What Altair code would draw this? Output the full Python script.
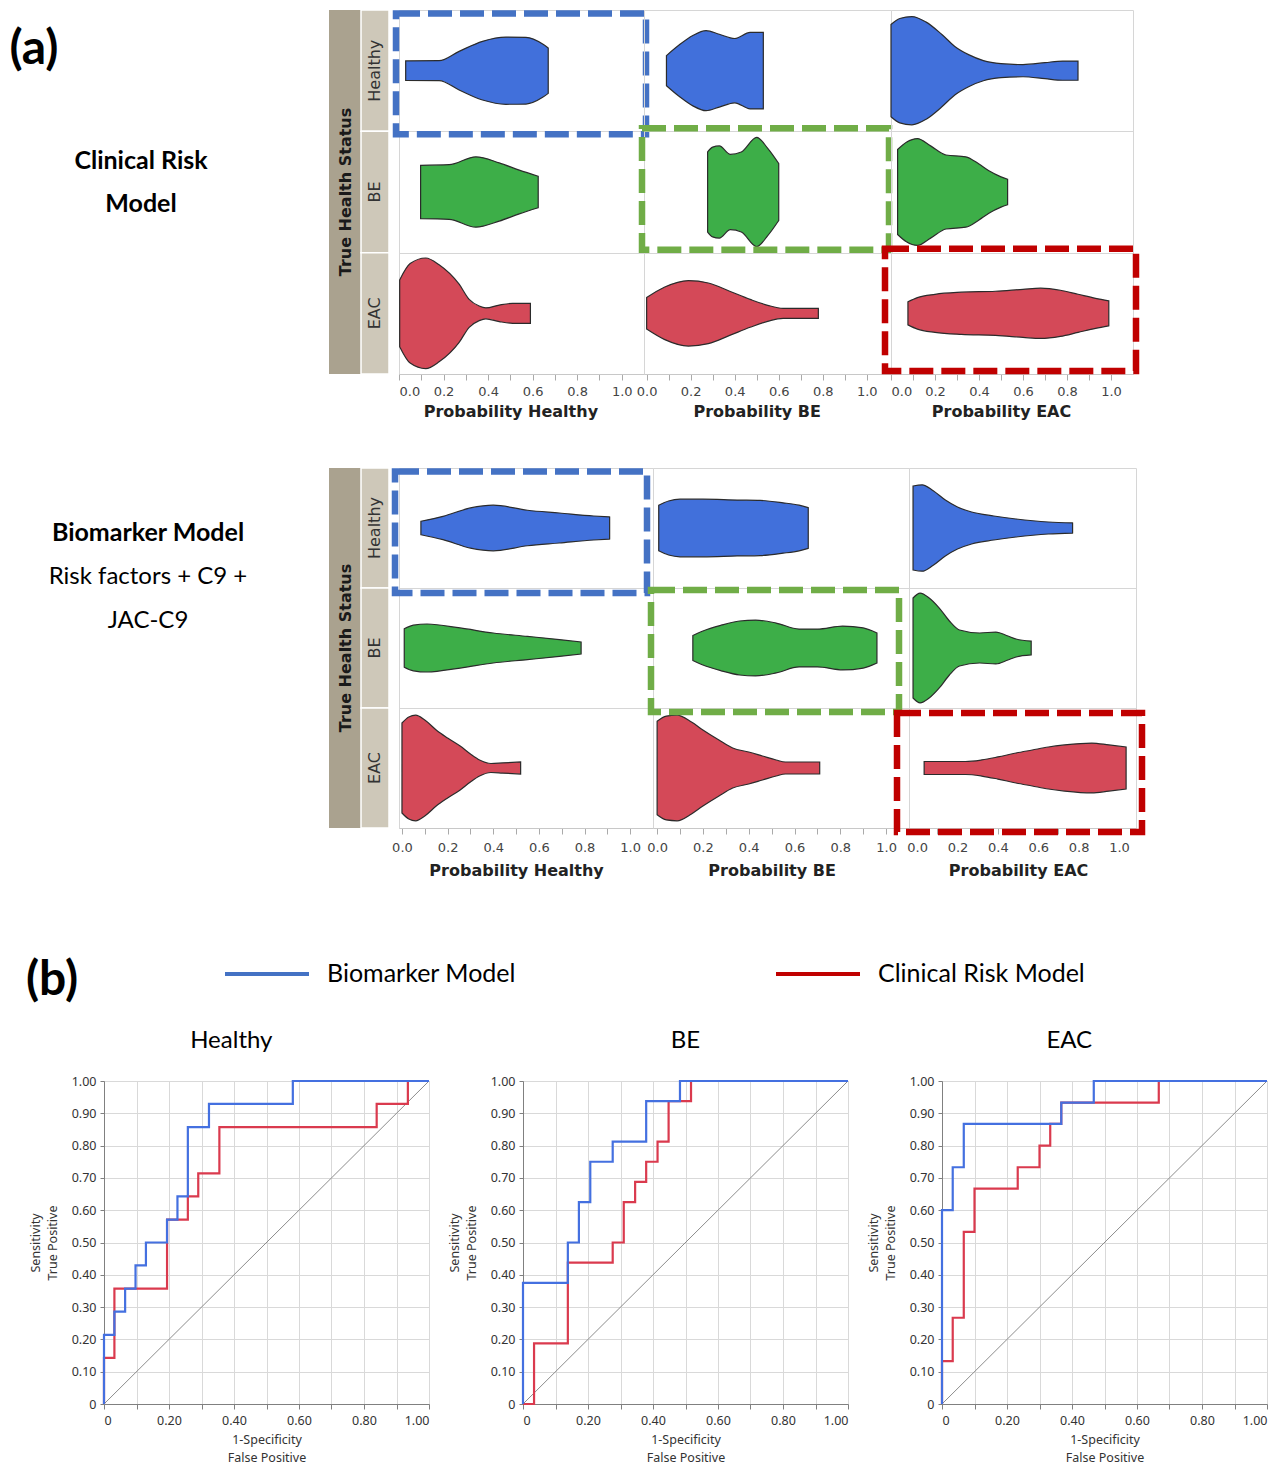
import altair as alt
import pandas as pd

# ---------------- data ----------------
ROWS = ["Healthy", "BE", "EAC"]
FILLS = ["#4170DB", "#3DAE48", "#D44958"]
TOP_TITLES = ["Probability Healthy", "Probability BE", "Probability EAC"]
BOT_TITLES = ["Probability Healthy", "Probability BE", "Probability  EAC"]
VIOLIN_TICKS = [0.0, 0.1, 0.2, 0.3, 0.4, 0.5, 0.6, 0.7, 0.8, 0.9, 1.0]
ROC_TICKS = [0.0, 0.1, 0.2, 0.3, 0.4, 0.5, 0.6, 0.7, 0.8, 0.9, 1.0]
MODELS = ["Biomarker Model", "Clinical Risk Model"]
ROC_TITLES = ["Healthy", "BE", "EAC"]
LEFT_TOP = ["Clinical Risk", "Model"]
LEFT_BOT = ["Biomarker Model", "Risk factors + C9 +", "JAC-C9"]
HEADER_TITLE = "True Health Status"

# violin profiles: (probability, half-width as fraction of a row)
# Clinical risk model (top grid)
CR_H_PH = [(0.03, 0.080), (0.18, 0.082), (0.27, 0.159), (0.375, 0.242), (0.48, 0.277), (0.57, 0.275), (0.645, 0.22), (0.67, 0.187)]
CR_B_PH = [(0.097, 0.22), (0.225, 0.225), (0.345, 0.29), (0.45, 0.24), (0.54, 0.18), (0.625, 0.13)]
CR_E_PH = [(0.003, 0.275), (0.05, 0.41), (0.12, 0.456), (0.18, 0.40), (0.27, 0.24), (0.315, 0.115), (0.36, 0.06), (0.39, 0.045), (0.45, 0.068), (0.51, 0.082), (0.59, 0.082)]
CR_H_PB = [(0.09, 0.124), (0.15, 0.215), (0.21, 0.29), (0.27, 0.33), (0.33, 0.30), (0.40, 0.265), (0.47, 0.315), (0.53, 0.315)]
CR_B_PB = [(0.277, 0.33), (0.30, 0.37), (0.33, 0.38), (0.38, 0.31), (0.43, 0.33), (0.50, 0.45), (0.55, 0.36), (0.60, 0.235)]
CR_E_PB = [(0.0, 0.13), (0.08, 0.215), (0.19, 0.27), (0.28, 0.25), (0.38, 0.18), (0.47, 0.115), (0.55, 0.066), (0.62, 0.041), (0.78, 0.041)]
CR_H_PE = [(0.0, 0.38), (0.04, 0.43), (0.095, 0.446), (0.16, 0.40), (0.23, 0.30), (0.29, 0.20), (0.355, 0.13), (0.42, 0.083), (0.5, 0.058), (0.6, 0.05), (0.7, 0.066), (0.78, 0.079), (0.85, 0.079)]
CR_B_PE = [(0.03, 0.35), (0.07, 0.41), (0.12, 0.44), (0.18, 0.38), (0.25, 0.305), (0.34, 0.29), (0.40, 0.23), (0.445, 0.175), (0.50, 0.125), (0.53, 0.105)]
CR_E_PE = [(0.077, 0.095), (0.12, 0.13), (0.2, 0.157), (0.32, 0.174), (0.475, 0.182), (0.6, 0.198), (0.68, 0.207), (0.77, 0.19), (0.85, 0.157), (0.93, 0.124), (0.99, 0.103)]
# Biomarker model (bottom grid)
BM_H_PH = [(0.083, 0.056), (0.18, 0.097), (0.30, 0.167), (0.40, 0.19), (0.55, 0.148), (0.69, 0.125), (0.84, 0.10), (0.91, 0.092)]
BM_B_PH = [(0.01, 0.16), (0.05, 0.19), (0.11, 0.20), (0.255, 0.167), (0.40, 0.125), (0.55, 0.097), (0.69, 0.07), (0.785, 0.05)]
BM_E_PH = [(0.0, 0.375), (0.03, 0.425), (0.06, 0.44), (0.10, 0.40), (0.15, 0.317), (0.20, 0.25), (0.255, 0.183), (0.30, 0.117), (0.34, 0.067), (0.39, 0.0375), (0.44, 0.042), (0.52, 0.05)]
BM_H_PB = [(0.007, 0.19), (0.05, 0.225), (0.10, 0.24), (0.20, 0.24), (0.35, 0.233), (0.45, 0.23), (0.55, 0.21), (0.62, 0.19), (0.66, 0.17)]
BM_B_PB = [(0.156, 0.104), (0.20, 0.142), (0.28, 0.19), (0.36, 0.225), (0.43, 0.233), (0.52, 0.208), (0.62, 0.158), (0.70, 0.158), (0.81, 0.183), (0.90, 0.167), (0.96, 0.125)]
BM_E_PB = [(0.0, 0.39), (0.04, 0.433), (0.087, 0.44), (0.15, 0.383), (0.20, 0.317), (0.27, 0.233), (0.33, 0.167), (0.40, 0.133), (0.46, 0.10), (0.52, 0.067), (0.56, 0.05), (0.71, 0.05)]
BM_H_PE = [(-0.02, 0.35), (0.025, 0.36), (0.08, 0.31), (0.14, 0.233), (0.20, 0.175), (0.27, 0.133), (0.38, 0.10), (0.49, 0.075), (0.65, 0.05), (0.77, 0.042)]
BM_B_PE = [(-0.02, 0.417), (0.015, 0.458), (0.06, 0.417), (0.11, 0.333), (0.16, 0.225), (0.21, 0.15), (0.31, 0.125), (0.39, 0.133), (0.45, 0.10), (0.49, 0.075), (0.565, 0.058)]
BM_E_PE = [(0.035, 0.054), (0.24, 0.054), (0.32, 0.067), (0.40, 0.092), (0.49, 0.125), (0.57, 0.15), (0.65, 0.175), (0.73, 0.192), (0.865, 0.208), (0.95, 0.192), (1.035, 0.175)]

# ROC curves (false positive rate, true positive rate)
H_BIO_FPR = [0, 0, 0.032, 0.032, 0.065, 0.065, 0.097, 0.097, 0.129, 0.129, 0.194, 0.194, 0.226, 0.226, 0.258, 0.258, 0.323, 0.323, 0.581, 0.581, 1.0]
H_BIO_TPR = [0, 0.214, 0.214, 0.286, 0.286, 0.357, 0.357, 0.429, 0.429, 0.5, 0.5, 0.571, 0.571, 0.643, 0.643, 0.857, 0.857, 0.929, 0.929, 1.0, 1.0]
H_CLI_FPR = [0, 0, 0.032, 0.032, 0.194, 0.194, 0.258, 0.258, 0.290, 0.290, 0.355, 0.355, 0.839, 0.839, 0.935, 0.935, 1.0]
H_CLI_TPR = [0, 0.143, 0.143, 0.357, 0.357, 0.571, 0.571, 0.643, 0.643, 0.714, 0.714, 0.857, 0.857, 0.929, 0.929, 1.0, 1.0]
B_BIO_FPR = [0, 0, 0.138, 0.138, 0.172, 0.172, 0.207, 0.207, 0.276, 0.276, 0.379, 0.379, 0.483, 0.483, 1.0]
B_BIO_TPR = [0, 0.375, 0.375, 0.5, 0.5, 0.625, 0.625, 0.75, 0.75, 0.8125, 0.8125, 0.9375, 0.9375, 1.0, 1.0]
B_CLI_FPR = [0, 0.034, 0.034, 0.138, 0.138, 0.276, 0.276, 0.310, 0.310, 0.345, 0.345, 0.379, 0.379, 0.414, 0.414, 0.448, 0.448, 0.517, 0.517, 1.0]
B_CLI_TPR = [0, 0, 0.1875, 0.1875, 0.4375, 0.4375, 0.5, 0.5, 0.625, 0.625, 0.6875, 0.6875, 0.75, 0.75, 0.8125, 0.8125, 0.9375, 0.9375, 1.0, 1.0]
E_BIO_FPR = [0, 0, 0.033, 0.033, 0.067, 0.067, 0.367, 0.367, 0.467, 0.467, 1.0]
E_BIO_TPR = [0, 0.6, 0.6, 0.733, 0.733, 0.867, 0.867, 0.933, 0.933, 1.0, 1.0]
E_CLI_FPR = [0, 0, 0.033, 0.033, 0.067, 0.067, 0.1, 0.1, 0.233, 0.233, 0.3, 0.3, 0.333, 0.333, 0.367, 0.367, 0.667, 0.667, 1.0]
E_CLI_TPR = [0, 0.133, 0.133, 0.267, 0.267, 0.533, 0.533, 0.667, 0.667, 0.733, 0.733, 0.8, 0.8, 0.867, 0.867, 0.933, 0.933, 1.0, 1.0]

# ---------------- styling / layout ----------------
BOX_COLORS = ["#4472C4", "#70AD47", "#C00000"]
DARK_TAN = "#aaa28f"
LIGHT_TAN = "#cec8b9"
GRID_LINE = "#d6d6d6"
ROC_BLUE = "#4470E0"
ROC_RED = "#DA3A4E"
LEG_COLORS = ["#4472C4", "#C00000"]
LEG_X = [216, 767]          # legend line start (px)
LEG_LINE_LEN = 84
LEG_TEXT_GAP = 18

TRANSPARENT_VIEW = alt.ViewBackground(stroke="transparent")


def block(width, y0, y1):
    """invisible rect that fixes the layout extent of a concat row"""
    return alt.Chart(pd.DataFrame({"a": [0]})).mark_rect(opacity=0).encode(
        x=alt.value(0), x2=alt.value(width), y=alt.value(y0), y2=alt.value(y1))


def violin_df(profiles):
    recs = []
    for r, pts in enumerate(profiles):
        for i, (p, w) in enumerate(pts):
            recs.append({"status": ROWS[r], "p": p, "lo": r + 0.5 - w, "hi": r + 0.5 + w, "i": i})
    return pd.DataFrame(recs)


def violin_col(profiles, title, width, height, domain, col, box_dx, box_dy, pads):
    yscale = alt.Scale(domain=[0, 3], reverse=True, nice=False, zero=False)
    yaxis = alt.Axis(values=[1, 2], labels=False, ticks=False, domain=False,
                     grid=True, gridColor=GRID_LINE, title=None)
    title_x = (0.5 - domain[0]) / (domain[1] - domain[0]) * width
    xaxis = alt.Axis(
        values=VIOLIN_TICKS,
        labelExpr="round(datum.value*10) % 2 == 0 ? format(datum.value, '.1f') : ''",
        title=title, titleFont="DejaVu Sans", titleFontWeight="bold", titleFontSize=16,
        titleColor="#222", labelFont="DejaVu Sans", labelFontSize=13, labelColor="#444",
        tickColor="#aaa", tickSize=6, domainColor="#c8c8c8", grid=False,
        labelPadding=pads[0], titlePadding=pads[1], labelOverlap=False,
        titleX=title_x, titleAlign="center",
    )
    areas = alt.Chart(violin_df(profiles)).mark_area(
        interpolate="monotone", stroke="#2b2b2b", strokeWidth=1.2
    ).encode(
        x=alt.X("p:Q", scale=alt.Scale(domain=domain, nice=False, zero=False), axis=xaxis),
        y=alt.Y("lo:Q", scale=yscale, axis=yaxis),
        y2="hi:Q",
        color=alt.Color("status:N", scale=alt.Scale(domain=ROWS, range=FILLS), legend=None),
    )
    box = alt.Chart(pd.DataFrame({"r0": [col], "r1": [col + 1]})).mark_rect(
        fillOpacity=0, stroke=BOX_COLORS[col], strokeWidth=6.5, strokeDash=[24, 8],
        yOffset=box_dy[0], y2Offset=box_dy[1],
    ).encode(
        x=alt.value(box_dx[0]), x2=alt.value(width + box_dx[1]),
        y=alt.Y("r0:Q", scale=yscale, axis=yaxis), y2="r1:Q",
    )
    return alt.layer(areas, box).properties(
        width=width, height=height, view=alt.ViewBackground(stroke=GRID_LINE)
    )


def header(height):
    yscale = alt.Scale(domain=[0, 3], reverse=True, nice=False, zero=False)
    strips = pd.DataFrame({"status": ROWS, "r0": [0, 1, 2], "r1": [1, 2, 3], "c": [0.5, 1.5, 2.5]})
    dark = alt.Chart(pd.DataFrame({"a": [0], "b": [3], "c": [1.5], "t": [HEADER_TITLE]}))
    dark_rect = dark.mark_rect(color=DARK_TAN).encode(
        x=alt.value(0), x2=alt.value(32), y=alt.Y("a:Q", scale=yscale, axis=None), y2="b:Q")
    dark_txt = dark.mark_text(angle=270, font="DejaVu Sans", fontWeight="bold", fontSize=16,
                              color="#1a1a1a").encode(
        x=alt.value(17), y=alt.Y("c:Q", scale=yscale, axis=None), text="t:N")
    light = alt.Chart(strips).mark_rect(color=LIGHT_TAN, stroke="white", strokeWidth=1.5).encode(
        x=alt.value(32), x2=alt.value(60), y=alt.Y("r0:Q", scale=yscale, axis=None), y2="r1:Q")
    light_txt = alt.Chart(strips).mark_text(angle=270, font="DejaVu Sans", fontSize=16,
                                            color="#333").encode(
        x=alt.value(46), y=alt.Y("c:Q", scale=yscale, axis=None), text="status:N")
    return alt.layer(dark_rect, light, dark_txt, light_txt).properties(
        width=70, height=height, view=TRANSPARENT_VIEW)


def left_text(lines, weights, x0, y0, step, height, extent, label=None):
    df = pd.DataFrame({"t": lines, "w": weights,
                       "y": [y0 + k * step for k in range(len(lines))]})
    layers = [block(1, 0, extent)]
    for wt, fs in [("bold", 25), ("normal", 24)]:
        sub = df[df.w == wt]
        if len(sub):
            layers.append(alt.Chart(sub).mark_text(font="Lato", fontSize=fs, fontWeight=wt,
                                                   color="#000").encode(
                x=alt.value(x0), y=alt.Y("y:Q", scale=None), text="t:N"))
    if label:
        layers.append(alt.Chart(pd.DataFrame({"t": [label]})).mark_text(
            font="Lato", fontSize=48, fontWeight="bold", color="#000").encode(
            x=alt.value(25), y=alt.value(40), text="t:N"))
    return alt.layer(*layers).properties(width=320, height=height, view=TRANSPARENT_VIEW)


def grid_row(profiles_cols, titles, widths, height, domains, box_dx, box_dy, pads, lt):
    cols = [violin_col(profiles_cols[c], titles[c], widths[c], height, domains[c], c,
                       box_dx[c], box_dy[c], pads) for c in range(3)]
    return alt.hconcat(lt, header(height), *cols, spacing=0, bounds="flush")


TOP_H = 364
BOT_H = 360
row1 = grid_row(
    [[CR_H_PH, CR_B_PH, CR_E_PH], [CR_H_PB, CR_B_PB, CR_E_PB], [CR_H_PE, CR_B_PE, CR_E_PE]],
    TOP_TITLES, [245, 247, 242], TOP_H,
    [[0, 1.1], [-0.012, 1.11], [0, 1.1]],
    [(-3, 2), (-2, -2), (-6, 3)], [(3.5, 3), (-3, -3), (-4, -3)], (5, 5),
    left_text(LEFT_TOP, ["bold", "bold"], 132, 151, 43, TOP_H, 455, label="(a)"),
)
row2 = grid_row(
    [[BM_H_PH, BM_B_PH, BM_E_PH], [BM_H_PB, BM_B_PB, BM_E_PB], [BM_H_PE, BM_B_PE, BM_E_PE]],
    BOT_TITLES, [254, 256, 227], BOT_H,
    [[-0.013, 1.1], [-0.018, 1.1], [-0.04, 1.084]],
    [(-4, -6), (-2, -10), (-12, 6)], [(3.5, 5), (2, 4), (5, 4)], (7, 8),
    left_text(LEFT_BOT, ["bold", "normal", "normal"], 139, 65, 44, BOT_H, 456),
)

# legend row (drawn from the model list)
LEG_H = 93
leg_df = pd.DataFrame({"model": MODELS, "color": LEG_COLORS,
                       "x0": LEG_X, "x1": [x + LEG_LINE_LEN for x in LEG_X],
                       "xt": [x + LEG_LINE_LEN + LEG_TEXT_GAP for x in LEG_X]})
leg_lines = alt.Chart(leg_df).mark_rule(strokeWidth=4).encode(
    x=alt.X("x0:Q", scale=None), x2="x1:Q", y=alt.value(48),
    color=alt.Color("color:N", scale=None))
leg_text = alt.Chart(leg_df).mark_text(font="Lato", fontSize=25, align="left",
                                       baseline="middle", color="#000").encode(
    x=alt.X("xt:Q", scale=None), y=alt.value(48), text="model:N")
b_label = alt.Chart(pd.DataFrame({"t": ["(b)"]})).mark_text(
    font="Lato", fontSize=48, fontWeight="bold", color="#000").encode(
    x=alt.value(43), y=alt.value(55), text="t:N")
legend_chart = alt.layer(block(1, 0, LEG_H), leg_lines, leg_text, b_label).properties(
    width=1250, height=LEG_H, view=TRANSPARENT_VIEW)


def roc_df(fpr, tpr):
    return pd.DataFrame({"fpr": fpr, "tpr": tpr, "i": list(range(len(fpr)))})


def roc_chart(title, bio, cli, frame):
    lab_font = "Noto Sans"
    xs = alt.Scale(domain=[0, 1], nice=False, zero=False)
    ys = alt.Scale(domain=[0, 1], nice=False, zero=False)
    xaxis = alt.Axis(
        values=ROC_TICKS,
        labelExpr="round(datum.value*10) % 2 == 0 ? (datum.value == 0 ? '0' : format(datum.value, '.2f')) : ''",
        title=["1-Specificity", "False Positive"], grid=True, gridColor="#d9d9d9",
        domainColor="#808080", tickColor="#808080", tickSize=5, labelFont=lab_font,
        labelFontSize=12.5, labelColor="#333", titleFont=lab_font, titleFontSize=12.5,
        titleFontWeight="normal", titleColor="#333", labelPadding=5, titlePadding=7,
        titleLineHeight=18, labelOverlap=False,
    )
    yaxis = alt.Axis(
        values=ROC_TICKS,
        labelExpr="datum.value == 0 ? '0' : format(datum.value, '.2f')",
        title=["Sensitivity", "True Positive"], grid=True, gridColor="#d9d9d9",
        domainColor="#808080", tickColor="#808080", tickSize=4, labelFont=lab_font,
        labelFontSize=12.5, labelColor="#333", titleFont=lab_font, titleFontSize=12.5,
        titleFontWeight="normal", titleColor="#333", labelPadding=4, titlePadding=12,
        titleLineHeight=17, labelOverlap=False,
    )

    def enc(ch):
        return ch.encode(x=alt.X("fpr:Q", scale=xs, axis=xaxis),
                         y=alt.Y("tpr:Q", scale=ys, axis=yaxis), order="i:Q")

    diag = enc(alt.Chart(roc_df([0, 1], [0, 1])).mark_line(color="#8c8c8c", strokeWidth=1))
    red = enc(alt.Chart(roc_df(*cli)).mark_line(color=ROC_RED, strokeWidth=2.2))
    blue = enc(alt.Chart(roc_df(*bio)).mark_line(color=ROC_BLUE, strokeWidth=2.2))
    return alt.layer(diag, red, blue).properties(
        width=325, height=323,
        title=alt.Title(title, font="Lato", fontSize=24, fontWeight="normal", color="#000",
                        frame=frame, anchor="middle", offset=22),
        view=alt.ViewBackground(stroke="#a6a6a6"),
    )


spacer = alt.layer(block(1, -60, 0)).properties(width=1, height=10, view=TRANSPARENT_VIEW)

roc_row = alt.hconcat(
    spacer,
    roc_chart(ROC_TITLES[0], (H_BIO_FPR, H_BIO_TPR), (H_CLI_FPR, H_CLI_TPR), "bounds"),
    roc_chart(ROC_TITLES[1], (B_BIO_FPR, B_BIO_TPR), (B_CLI_FPR, B_CLI_TPR), "group"),
    roc_chart(ROC_TITLES[2], (E_BIO_FPR, E_BIO_TPR), (E_CLI_FPR, E_CLI_TPR), "bounds"),
    spacing=94, bounds="flush",
)

chart = alt.vconcat(row1, row2, legend_chart, roc_row, spacing=0).properties(
    padding=0
).configure(background="white")

chart.save("out.html", embed_options={"renderer": "svg", "actions": False})
